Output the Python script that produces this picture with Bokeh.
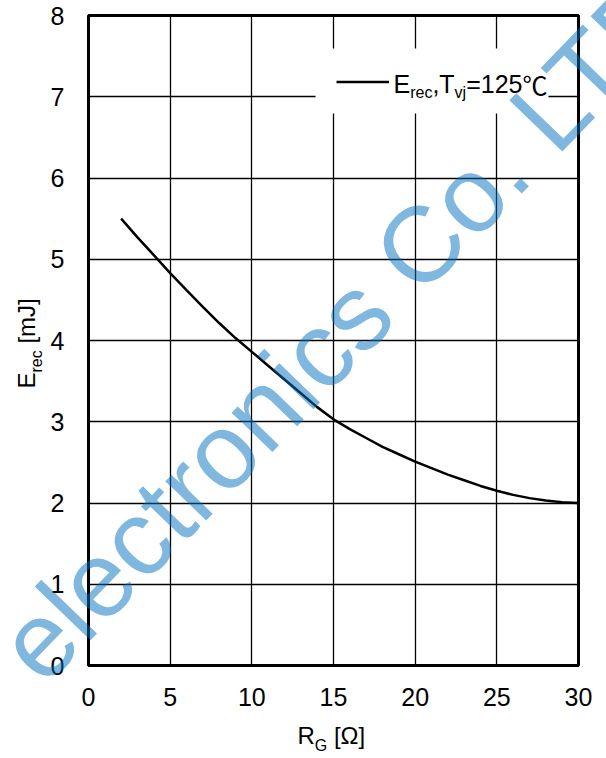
import math
from bokeh.plotting import figure
from bokeh.models import Label, Legend, LegendItem, FixedTicker, Range1d, BoxAnnotation
from bokeh.embed import file_html
from bokeh.resources import INLINE

# ---- data ----
rg_ohm = [2, 3, 4, 5, 6, 7, 8, 9, 10, 11, 12, 13, 14, 15, 16, 17, 18, 19, 20,
          21, 22, 23, 24, 25, 26, 27, 28, 29, 30]
erec_mj = [5.50, 5.27, 5.05, 4.83, 4.62, 4.415, 4.215, 4.03, 3.86, 3.69, 3.52,
           3.35, 3.18, 3.03, 2.91, 2.80, 2.69, 2.60, 2.51, 2.43, 2.35, 2.28,
           2.21, 2.15, 2.10, 2.06, 2.03, 2.01, 2.00]
x_ticks = [0, 5, 10, 15, 20, 25, 30]
y_ticks = [0, 1, 2, 3, 4, 5, 6, 7, 8]
x_lim = (0, 30)
y_lim = (0, 8)
watermark = "electronics Co. LTD"

FONT = "Liberation Sans"
CJK = "Noto Sans CJK SC"

FW, FH = 490, 650
BL, BR, BT, BB = 88, 28, 15, 93
FL_REF, FB_REF = BL, BT + FH

p = figure(frame_width=FW, frame_height=FH,
           x_range=Range1d(*x_lim), y_range=Range1d(*y_lim),
           output_backend="svg", toolbar_location=None,
           min_border_left=BL, min_border_right=BR,
           min_border_top=BT, min_border_bottom=BB)
p.background_fill_color = "white"
p.border_fill_color = "white"
p.outline_line_color = "black"
p.outline_line_width = 3

for ax, ticks, so in ((p.xaxis, x_ticks, 16), (p.yaxis, y_ticks, 18)):
    ax.ticker = FixedTicker(ticks=ticks)
    ax.major_label_text_font = FONT
    ax.major_label_text_font_size = "25px"
    ax.major_label_text_color = "black"
    ax.major_tick_line_color = None
    ax.minor_tick_line_color = None
    ax.axis_line_color = None
    ax.major_label_standoff = so

for g in (p.xgrid, p.ygrid):
    g.grid_line_color = "black"
    g.grid_line_width = 1.3
    g.grid_line_alpha = 1.0


def to_data(px, py):
    """picture pixel (y down) -> data coordinates"""
    x = x_lim[0] + (px - FL_REF) / FW * (x_lim[1] - x_lim[0])
    y = y_lim[0] + (FB_REF - py) / FH * (y_lim[1] - y_lim[0])
    return x, y


r = p.line(rg_ohm, erec_mj, line_color="black", line_width=2.5)

# white legend panel that hides the grid
bx0, by0 = to_data(315, 113)
bx1, by1 = to_data(548, 48)
p.add_layout(BoxAnnotation(left=bx0, right=bx1, bottom=by0, top=by1,
                           fill_color="white", fill_alpha=1.0,
                           line_color=None, level="underlay"))

legend = Legend(items=[LegendItem(label=" ", renderers=[r])],
                location=(248, 572), glyph_width=53, glyph_height=23,
                padding=21, label_standoff=4, label_width=134, label_height=20,
                label_text_font_size="10px", border_line_color=None,
                background_fill_alpha=0.0, margin=0, spacing=0)
p.add_layout(legend)

W = {'E': 667, 'r': 333, 'e': 556, 'c': 500, ',': 278, 'T': 611, 'v': 500,
     'j': 222, '=': 584, '1': 556, '2': 556, '5': 556, 'R': 722, 'G': 778,
     ' ': 278, '[': 278, ']': 278, 'm': 833, 'J': 500, 'Ω': 768, '℃': 1000}


def rich(runs, px, py, angle=0.0, side="right"):
    """runs: (text, size_px, drop_px, font); px,py: picture pixels (y down)
    of the baseline start."""
    ca, sa = math.cos(angle), math.sin(angle)
    adv = 0.0
    for text, size, drop, font in runs:
        lead = len(text) - len(text.lstrip(" "))
        adv += lead * W[' '] / 1000 * size
        text = text.lstrip(" ")
        d = drop - 0.4 * size          # renderer draws baseline ~0.4em low
        x = px + adv * ca + d * sa
        y = py - adv * sa + d * ca
        dx, dy = to_data(x, y)
        lab = Label(x=dx, y=dy, text=text, angle=angle,
                    text_font=font, text_font_size=f"{size}px",
                    text_color="black", text_align="left",
                    text_baseline="alphabetic", level="overlay")
        p.add_layout(lab, side)
        adv += sum(W.get(ch, 556) for ch in text) / 1000 * size


# legend text
rich([("E", 25, 0, FONT), ("rec", 16, 5, FONT), (",T", 25, 0, FONT),
      ("vj", 16, 5, FONT), ("=125", 25, 0, FONT), ("℃", 25, 0, CJK)],
     393, 93)
# x axis title
rich([("R", 24, 0, FONT), ("G", 16, 6, FONT), (" [Ω]", 24, 0, FONT)],
     297, 745)
# y axis title
rich([("E", 24, 0, FONT), ("rec", 16, 6, FONT), (" [mJ]", 24, 0, FONT)],
     36, 388, angle=math.pi / 2)

# watermark
wx, wy = to_data(17, 662)
p.add_layout(Label(x=wx, y=wy, text=watermark, angle=math.radians(46),
                   text_font=FONT, text_font_size="107px",
                   text_color="#0070C0", text_alpha=0.5,
                   text_align="left", text_baseline="alphabetic",
                   level="overlay"), "right")

open("out.html", "w").write(file_html(p, INLINE))
